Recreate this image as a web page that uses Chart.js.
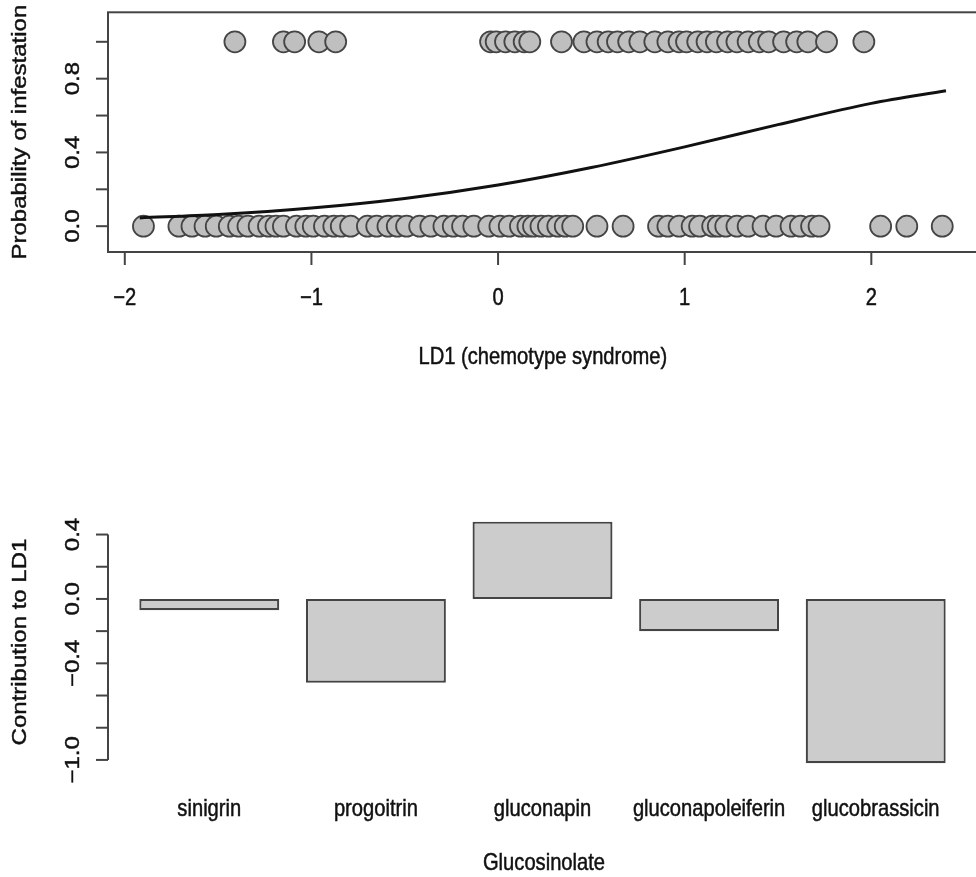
<!DOCTYPE html>
<html>
<head>
<meta charset="utf-8">
<title>LD1 chemotype</title>
<script src="https://cdn.jsdelivr.net/npm/chart.js@4.4.1/dist/chart.umd.min.js"></script>
<style>
  html, body { margin: 0; padding: 0; background: #fff; overflow: hidden; }
  #wrap { position: relative; width: 976px; height: 877px; overflow: hidden; }
  canvas { position: absolute; left: 0; }
  #topChart { top: 0; }
  #bottomChart { top: 420px; }
</style>
</head>
<body>
<div id="wrap">
  <canvas id="topChart" width="990" height="420"></canvas>
  <canvas id="bottomChart" width="990" height="457"></canvas>
</div>
<script>
// LD1 scores of plants that were infested (y = 1) and not infested (y = 0)
const ldInfested = [-1.41, -1.15, -1.09, -0.96, -0.87, -0.04, -0.01, 0.04, 0.09, 0.14, 0.17,
    0.34, 0.46, 0.53, 0.59, 0.64, 0.70, 0.76, 0.84, 0.91, 0.97, 1.01, 1.07, 1.12, 1.17,
    1.23, 1.28, 1.34, 1.40, 1.45, 1.53, 1.60, 1.66, 1.76, 1.96];
const ldHealthy = [-1.90, -1.71, -1.64, -1.57, -1.51, -1.44, -1.39, -1.34, -1.28, -1.23,
    -1.19, -1.15, -1.08, -1.03, -0.99, -0.93, -0.88, -0.84, -0.79, -0.70, -0.65, -0.59,
    -0.54, -0.49, -0.42, -0.36, -0.29, -0.24, -0.19, -0.13, -0.05, 0.01, 0.06, 0.12, 0.16,
    0.19, 0.23, 0.27, 0.32, 0.36, 0.40, 0.53, 0.67, 0.86, 0.91, 0.97, 1.04, 1.08, 1.15,
    1.18, 1.22, 1.28, 1.34, 1.42, 1.49, 1.57, 1.62, 1.68, 1.72, 2.05, 2.19, 2.38];

// fitted probability curve
const curveX = [-1.92, -1.5, -1.0, -0.5, 0.0, 0.5, 1.0, 1.5, 2.0, 2.4];
const curveP = [0.045, 0.063, 0.098, 0.150, 0.223, 0.318, 0.430, 0.551, 0.666, 0.735];

const ldTicks = [-2, -1, 0, 1, 2];
const probTicks = [0, 0.2, 0.4, 0.6, 0.8, 1.0];
const probLabels = [0, 0.4, 0.8];

// bar chart
const glucosinolates = ["sinigrin", "progoitrin", "gluconapin", "gluconapoleiferin", "glucobrassicin"];
const contributions = [-0.07, -0.52, 0.48, -0.20, -1.02];
const contribTicks = [0.4, 0.2, 0, -0.2, -0.4, -0.6, -0.8, -1.0];
const contribLabels = [0.4, 0, -0.4, -1.0];

const AXIS = "#444";
const TEXT = "#111";
const FONT = '24px "Liberation Sans", Arial, sans-serif';

function fmt(v, digits) {
    const s = Math.abs(v).toFixed(digits);
    return (v < 0 ? "\u2212" : "") + s;
}

// the original looks squeezed sideways, so text is drawn narrow (rotated text keeps its length)
function rText(ctx, str, x, y, rotated) {
    ctx.save();
    ctx.translate(x, y);
    ctx.scale(0.84, 1);
    if (rotated) ctx.rotate(-Math.PI / 2);
    ctx.font = FONT;
    ctx.fillStyle = TEXT;
    ctx.strokeStyle = TEXT;
    ctx.lineWidth = 0.5;
    ctx.textAlign = "center";
    ctx.textBaseline = "middle";
    ctx.fillText(str, 0, 0);
    ctx.strokeText(str, 0, 0);
    ctx.restore();
}

function seg(ctx, x1, y1, x2, y2) {
    ctx.beginPath();
    ctx.moveTo(x1, y1);
    ctx.lineTo(x2, y2);
    ctx.stroke();
}

const topAxes = {
    id: "topAxes",
    afterDraw(chart) {
        const ctx = chart.ctx;
        const ca = chart.chartArea;
        const xs = chart.scales.x;
        const ys = chart.scales.y;
        ctx.save();
        ctx.strokeStyle = AXIS;
        ctx.lineWidth = 2;
        ctx.strokeRect(ca.left, ca.top, ca.right - ca.left, ca.bottom - ca.top);

        ldTicks.forEach(v => {
            const px = xs.getPixelForValue(v);
            seg(ctx, px, ca.bottom, px, ca.bottom + 13);
            rText(ctx, fmt(v, 0), px, ca.bottom + 46);
        });
        probTicks.forEach(v => {
            const py = ys.getPixelForValue(v);
            seg(ctx, ca.left, py, ca.left - 12, py);
        });
        probLabels.forEach(v => {
            rText(ctx, fmt(v, 1), ca.left - 35, ys.getPixelForValue(v), true);
        });
        rText(ctx, "LD1 (chemotype syndrome)", (ca.left + ca.right) / 2, ca.bottom + 105);
        rText(ctx, "Probability of infestation", 20, (ca.top + ca.bottom) / 2, true);
        ctx.restore();
    }
};

const bottomAxes = {
    id: "bottomAxes",
    afterDraw(chart) {
        const ctx = chart.ctx;
        const ca = chart.chartArea;
        const xs = chart.scales.x;
        const ys = chart.scales.y;
        const axisX = ca.left - 18;
        ctx.save();
        ctx.strokeStyle = AXIS;
        ctx.lineWidth = 2;
        seg(ctx, axisX, ys.getPixelForValue(contribTicks[0]), axisX,
            ys.getPixelForValue(contribTicks[contribTicks.length - 1]));
        contribTicks.forEach(v => {
            const py = ys.getPixelForValue(v);
            seg(ctx, axisX, py, axisX - 12, py);
        });
        contribLabels.forEach(v => {
            rText(ctx, fmt(v, 1), axisX - 35, ys.getPixelForValue(v), true);
        });
        glucosinolates.forEach((name, i) => {
            rText(ctx, name, xs.getPixelForValue(i), ca.bottom + 37);
        });
        rText(ctx, "Glucosinolate", (axisX + 980) / 2, ca.bottom + 91);
        rText(ctx, "Contribution to LD1", 20, (ca.top + ca.bottom) / 2, true);
        ctx.restore();
    }
};

const quiet = {
    legend: { display: false },
    tooltip: { enabled: false }
};

new Chart(document.getElementById("topChart"), {
    type: "scatter",
    data: {
        datasets: [
            {
                label: "fit",
                type: "line",
                data: curveX.map((x, i) => ({ x: x, y: curveP[i] })),
                borderColor: "#111",
                borderWidth: 3,
                pointRadius: 0,
                cubicInterpolationMode: "monotone",
                fill: false,
                order: 0
            },
            {
                label: "infested",
                data: ldInfested.map(x => ({ x: x, y: 1 })),
                backgroundColor: "#bfbfbf",
                borderColor: "#454545",
                borderWidth: 1.8,
                pointRadius: 10.5,
                order: 1
            },
            {
                label: "not infested",
                data: ldHealthy.map(x => ({ x: x, y: 0 })),
                backgroundColor: "#bfbfbf",
                borderColor: "#454545",
                borderWidth: 1.8,
                pointRadius: 10.5,
                order: 1
            }
        ]
    },
    options: {
        responsive: false,
        animation: false,
        layout: { padding: { left: 108, top: 12, right: 10, bottom: 168 } },
        scales: {
            x: { type: "linear", min: -2.09, max: 2.57, display: false },
            y: { type: "linear", min: -0.14, max: 1.16, display: false }
        },
        plugins: quiet
    },
    plugins: [topAxes]
});

new Chart(document.getElementById("bottomChart"), {
    type: "bar",
    data: {
        labels: glucosinolates,
        datasets: [{
            label: "Contribution to LD1",
            data: contributions,
            backgroundColor: "#cccccc",
            borderColor: "#444",
            borderWidth: 2.2,
            borderSkipped: false,
            categoryPercentage: 0.84,
            barPercentage: 1
        }]
    },
    options: {
        responsive: false,
        animation: false,
        layout: { padding: { left: 126, top: 92, right: 31, bottom: 105 } },
        scales: {
            x: { display: false },
            y: { min: -1.075, max: 0.54, display: false }
        },
        plugins: quiet
    },
    plugins: [bottomAxes]
});
</script>
</body>
</html>
